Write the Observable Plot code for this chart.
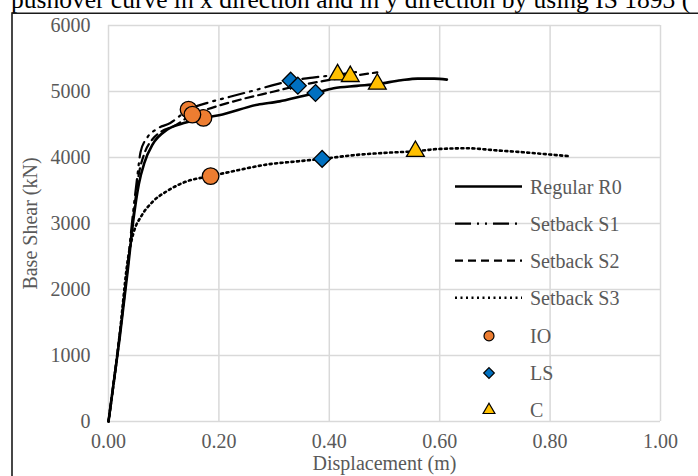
<!DOCTYPE html>
<html>
<head>
<meta charset="utf-8">
<script src="https://cdn.jsdelivr.net/npm/d3@7"></script>
<script src="https://cdn.jsdelivr.net/npm/@observablehq/plot@0.6"></script>
<style>
  html, body { margin: 0; padding: 0; background: #fff; }
  #wrap { position: relative; width: 698px; height: 476px; overflow: hidden; }
  #wrap svg { display: block; }
  #overlay { position: absolute; left: 0; top: 0; pointer-events: none; }
</style>
</head>
<body>
<div id="wrap"></div>
<script>
// ---- Data ----
const titleText = "pushover curve in x direction and in y direction by using IS 1893 (";
const xLabel = "Displacement (m)";
const yLabel = "Base Shear (kN)";
const xTicks = [0, 0.2, 0.4, 0.6, 0.8, 1.0];
const yTicks = [0, 1000, 2000, 3000, 4000, 5000, 6000];

const seriesNames = ["Regular R0", "Setback S1", "Setback S2", "Setback S3"];

const r0X = [0, 0.02, 0.035, 0.045, 0.055, 0.065, 0.08, 0.106, 0.14, 0.172, 0.20, 0.27, 0.31, 0.348, 0.375, 0.408, 0.45, 0.487, 0.53, 0.56, 0.59, 0.613];
const r0Y = [0, 1250, 2300, 3050, 3600, 3920, 4200, 4420, 4530, 4600, 4640, 4800, 4850, 4925, 4977, 5050, 5085, 5113, 5170, 5195, 5195, 5180];

const s1X = [0, 0.02, 0.035, 0.045, 0.052, 0.058, 0.07, 0.085, 0.112, 0.145, 0.18, 0.22, 0.269, 0.30, 0.33, 0.37, 0.415, 0.455];
const s1Y = [0, 1300, 2400, 3200, 3700, 4080, 4300, 4420, 4523, 4726, 4830, 4920, 5028, 5100, 5164, 5210, 5255, 5300];

const s2X = [0, 0.02, 0.035, 0.045, 0.055, 0.065, 0.08, 0.095, 0.118, 0.152, 0.19, 0.24, 0.30, 0.343, 0.39, 0.438, 0.487];
const s2Y = [0, 1280, 2350, 3100, 3750, 4060, 4280, 4390, 4473, 4650, 4760, 4880, 5000, 5088, 5160, 5229, 5290];

const s3X = [0, 0.02, 0.035, 0.045, 0.06, 0.08, 0.106, 0.143, 0.185, 0.23, 0.287, 0.34, 0.387, 0.45, 0.50, 0.556, 0.60, 0.65, 0.70, 0.75, 0.80, 0.834];
const s3Y = [0, 1300, 2450, 2850, 3120, 3330, 3491, 3642, 3718, 3800, 3894, 3940, 3979, 4040, 4070, 4095, 4130, 4140, 4110, 4080, 4045, 4020];

// Performance points, order: R0, S1, S2, S3
const ioX = [0.172, 0.145, 0.152, 0.185];
const ioY = [4600, 4726, 4650, 3718];
const lsX = [0.375, 0.330, 0.343, 0.387];
const lsY = [4977, 5164, 5088, 3979];
const cX = [0.487, 0.415, 0.438, 0.556];
const cY = [5113, 5255, 5229, 4095];
const markerNames = ["IO", "LS", "C"];

// ---- Styles ----
const lineStyles = [
  {width: 2.6, dash: null},
  {width: 2.2, dash: "16,6,2,6,2,6"},
  {width: 2.2, dash: "8,5"},
  {width: 2.6, dash: "2,3.5"}
];
const markerStyles = [
  {symbol: "circle", fill: "#ED7D31", r: 8.3, lr: 5},
  {symbol: "diamond2", fill: "#0070C0", r: 7.6, lr: 4.8},
  {symbol: "triangle", fill: "#FFC000", r: 6.6, lr: 4.4}
];

const toPts = (xs, ys, name) => xs.map((x, i) => ({x, y: ys[i], name}));
const curves = [
  toPts(r0X, r0Y, seriesNames[0]),
  toPts(s1X, s1Y, seriesNames[1]),
  toPts(s2X, s2Y, seriesNames[2]),
  toPts(s3X, s3Y, seriesNames[3])
];
const markers = [
  toPts(ioX, ioY, "IO"),
  toPts(lsX, lsY, "LS"),
  toPts(cX, cY, "C")
];

const font = "'Liberation Serif', 'Times New Roman', serif";
const grey = "#595959";
const gridColor = "#d9d9d9";
const fs = 20;

const chart = Plot.plot({
  width: 698,
  height: 476,
  marginLeft: 108,
  marginRight: 38,
  marginTop: 25,
  marginBottom: 55,
  style: {fontFamily: font, fontSize: fs + "px", color: grey, background: "white", overflow: "visible"},
  x: {domain: [0, 1]},
  y: {domain: [0, 6000]},
  marks: [
    Plot.gridX(xTicks, {stroke: gridColor, strokeOpacity: 1, strokeWidth: 1.5}),
    Plot.gridY(yTicks, {stroke: gridColor, strokeOpacity: 1, strokeWidth: 1.5}),
    Plot.axisX({ticks: xTicks, tickSize: 0, tickPadding: 12, tickFormat: d => d.toFixed(2),
      label: xLabel, labelAnchor: "center", labelArrow: "none", labelOffset: 48, fontSize: fs}),
    Plot.axisY({ticks: yTicks, tickSize: 0, tickPadding: 18, tickFormat: d => String(d),
      label: yLabel, labelAnchor: "center", labelArrow: "none", labelOffset: 86, fontSize: fs}),
    ...curves.map((c, i) => Plot.line(c, {
      x: "x", y: "y", stroke: "black",
      strokeWidth: lineStyles[i].width,
      strokeDasharray: lineStyles[i].dash,
      curve: "monotone-x"
    })),
    ...markers.map((m, i) => Plot.dot(m, {
      x: "x", y: "y", symbol: markerStyles[i].symbol, r: markerStyles[i].r,
      fill: markerStyles[i].fill, stroke: "black", strokeWidth: 1.3
    }))
  ]
});

const wrap = document.getElementById("wrap");
wrap.appendChild(chart);

// ---- Overlay: title strip, outer frame, legend ----
const ov = d3.select(wrap).append("svg")
  .attr("id", "overlay").attr("width", 698).attr("height", 476)
  .style("font-family", font);

ov.append("text").attr("x", 11).attr("y", 7.5)
  .attr("font-size", 25.5).attr("fill", "black").text(titleText);

ov.append("path").attr("d", "M12,476V13.3H698")
  .attr("fill", "none").attr("stroke", "#1a1a1a").attr("stroke-width", 1.6);

const leg = ov.append("g");
const legX0 = 455, legX1 = 522, legMark = 489, legText = 530;
const legY0 = 186.5, legStep = 37.1;
seriesNames.forEach((name, i) => {
  const y = legY0 + i * legStep;
  leg.append("line").attr("x1", legX0).attr("x2", legX1).attr("y1", y).attr("y2", y)
    .attr("stroke", "black").attr("stroke-width", lineStyles[i].width)
    .attr("stroke-dasharray", lineStyles[i].dash);
  leg.append("text").attr("x", legText).attr("y", y).attr("dy", "0.35em")
    .attr("font-size", fs).attr("fill", grey).text(name);
});
const symMap = {circle: d3.symbolCircle, diamond2: d3.symbolDiamond2, triangle: d3.symbolTriangle};
markerNames.forEach((name, i) => {
  const y = legY0 + (i + 4) * legStep + 1;
  const ms = markerStyles[i];
  leg.append("path")
    .attr("d", d3.symbol(symMap[ms.symbol], Math.PI * ms.lr * ms.lr)())
    .attr("transform", `translate(${legMark},${y})`)
    .attr("fill", ms.fill).attr("stroke", "black").attr("stroke-width", 1.2);
  leg.append("text").attr("x", legText).attr("y", y).attr("dy", "0.35em")
    .attr("font-size", fs).attr("fill", grey).text(name);
});
</script>
</body>
</html>
